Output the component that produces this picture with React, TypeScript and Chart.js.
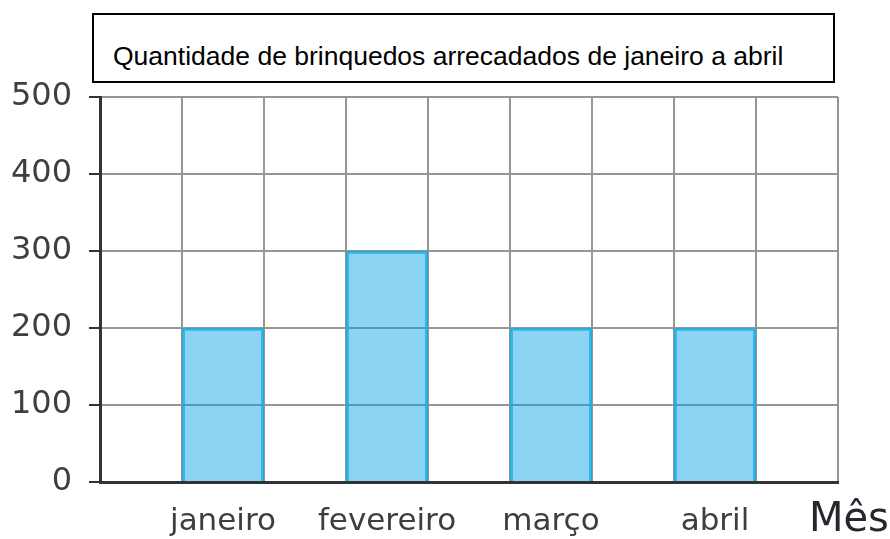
import React, { useEffect, useRef } from "react";
import { Chart, registerables } from "chart.js";

Chart.register(...registerables);

const months = ["janeiro", "fevereiro", "março", "abril"];
const toys = [200, 300, 200, 200];
const yTicks = [0, 100, 200, 300, 400, 500];
const titleText = "Quantidade de brinquedos arrecadados de janeiro a abril";
const xAxisName = "Mês";

// Each month is preceded by an empty slot, and one empty slot closes the axis
const labels: string[] = [];
const values: (number | null)[] = [];
months.forEach((m, i) => {
  labels.push("");
  values.push(null);
  labels.push(m);
  values.push(toys[i]);
});
labels.push("");
values.push(null);

const axisNamePlugin = {
  id: "axisName",
  afterDraw(chart: any) {
    const { ctx, chartArea } = chart;
    ctx.save();
    ctx.font = '40px "DejaVu Sans"';
    ctx.fillStyle = "#26262e";
    ctx.textAlign = "left";
    ctx.textBaseline = "alphabetic";
    ctx.fillText(xAxisName, chartArea.right - 29, 531);
    ctx.restore();
  },
};

export default function App() {
  const ref = useRef<HTMLCanvasElement>(null);
  useEffect(() => {
    if (!ref.current) return;
    const chart = new Chart(ref.current, {
      type: "bar",
      data: {
        labels,
        datasets: [
          {
            data: values,
            backgroundColor: "rgba(0,160,230,0.45)",
            borderColor: "rgba(20,170,228,0.85)",
            borderWidth: 2.5,
            categoryPercentage: 1,
            barPercentage: 1,
          },
        ],
      },
      options: {
        responsive: false,
        animation: false,
        layout: { padding: { left: 0, top: 97, right: 52, bottom: 0 } },
        plugins: {
          legend: { display: false },
          tooltip: { enabled: false },
          title: { display: false },
        },
        scales: {
          x: {
            type: "category",
            grid: {
              offset: true,
              color: "#969696",
              lineWidth: 2,
              drawTicks: false,
            },
            border: { display: true, color: "#333333", width: 3 },
            ticks: {
              autoSkip: false,
              maxRotation: 0,
              padding: 21,
              color: "#3e3e3e",
              font: { family: "DejaVu Sans", size: 31 },
            },
            afterFit(scale: any) {
              scale.height = 57;
            },
          },
          y: {
            min: 0,
            max: 500,
            afterBuildTicks(scale: any) {
              scale.ticks = yTicks.map((v) => ({ value: v }));
            },
            grid: {
              color: "#969696",
              lineWidth: 2,
              drawTicks: true,
              tickLength: 11,
              tickColor: "#333333",
              tickWidth: 2,
            },
            border: { display: true, color: "#333333", width: 3 },
            ticks: {
              padding: 17,
              color: "#3e3e3e",
              font: { family: "DejaVu Sans", size: 32 },
            },
            afterFit(scale: any) {
              scale.width = 100;
            },
          },
        },
      },
      plugins: [axisNamePlugin],
    });
    return () => chart.destroy();
  }, []);

  return (
    <div style={{ position: "absolute", left: 0, top: 0, width: 890, height: 539, background: "#fff" }}>
      <canvas ref={ref} width={890} height={539} style={{ position: "absolute", left: 0, top: 0 }} />
      <div
        style={{
          position: "absolute",
          left: 92,
          top: 13,
          width: 743,
          height: 70,
          border: "2px solid #000",
          boxSizing: "border-box",
          background: "#fff",
        }}
      />
      <div
        style={{
          position: "absolute",
          left: 113,
          top: 42.6,
          fontFamily: '"Liberation Sans", Arial, sans-serif',
          fontSize: 26.5,
          lineHeight: 1,
          color: "#000",
          whiteSpace: "nowrap",
        }}
      >
        {titleText}
      </div>
    </div>
  );
}
